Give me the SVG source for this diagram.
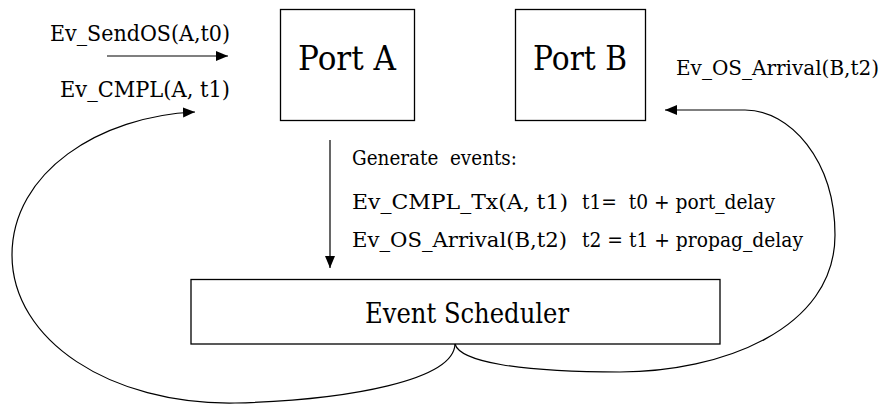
<svg xmlns="http://www.w3.org/2000/svg" width="892" height="405" viewBox="0 0 892 405">
  <style>
    text { font-family: "DejaVu Serif", "Liberation Serif", serif; fill: #000; }
    .box { fill: #fff; stroke: #000; stroke-width: 1.3; }
    .port { font-size: 34px; }
    .lbl { font-size: 22px; }
    .gen { font-size: 20px; }
    .conn { fill: none; stroke: #000; stroke-width: 1.2; }
  </style>
  <defs>
    <marker id="ah" markerUnits="userSpaceOnUse" markerWidth="13" markerHeight="11" refX="12" refY="5" orient="auto">
      <path d="M0,0 L12,5 L0,10 z" fill="#000"/>
    </marker>
  </defs>

  <g id="port-a">
    <rect class="box" x="280.5" y="9.5" width="134" height="111"/>
    <text class="port" x="298" y="70" textLength="98" lengthAdjust="spacingAndGlyphs">Port A</text>
  </g>

  <g id="port-b">
    <rect class="box" x="515.5" y="9.5" width="130" height="111"/>
    <text class="port" x="533" y="70" textLength="94" lengthAdjust="spacingAndGlyphs">Port B</text>
  </g>

  <g id="event-scheduler">
    <rect class="box" x="191" y="279.5" width="529" height="64.5"/>
    <text x="365" y="323" font-size="28" textLength="204" lengthAdjust="spacingAndGlyphs">Event Scheduler</text>
  </g>

  <g id="labels">
    <text class="lbl" x="50" y="41" textLength="180" lengthAdjust="spacingAndGlyphs">Ev_SendOS(A,t0)</text>
    <text class="lbl" x="60" y="97" textLength="170" lengthAdjust="spacingAndGlyphs">Ev_CMPL(A, t1)</text>
    <text x="676" y="75" font-size="20" textLength="203" lengthAdjust="spacingAndGlyphs">Ev_OS_Arrival(B,t2)</text>
    <text class="gen" x="352" y="165" textLength="165" lengthAdjust="spacingAndGlyphs" xml:space="preserve">Generate  events:</text>
    <text class="gen" x="352" y="209" textLength="216" lengthAdjust="spacingAndGlyphs">Ev_CMPL_Tx(A, t1)</text>
    <text class="gen" x="352" y="247" textLength="215" lengthAdjust="spacingAndGlyphs">Ev_OS_Arrival(B,t2)</text>
    <text class="gen" x="582" y="209" textLength="193" lengthAdjust="spacingAndGlyphs" xml:space="preserve">t1=  t0 + port_delay</text>
    <text class="gen" x="582" y="247" textLength="221" lengthAdjust="spacingAndGlyphs">t2 = t1 + propag_delay</text>
  </g>

  <g id="connectors">
    <line class="conn" x1="107" y1="56" x2="228" y2="56" marker-end="url(#ah)"/>
    <line class="conn" x1="330" y1="140" x2="330" y2="268" marker-end="url(#ah)"/>
    <path class="conn" d="M455,344 C454,380 350,400 235,403 C110,405 12,340 12,255 C12,172 100,116 195,112" marker-end="url(#ah)"/>
    <path class="conn" d="M455,344 C460,362 520,372 620,372 C720,372 835,330 835,235 C835,160 790,110 745,110 L665,110" marker-end="url(#ah)"/>
  </g>
</svg>
